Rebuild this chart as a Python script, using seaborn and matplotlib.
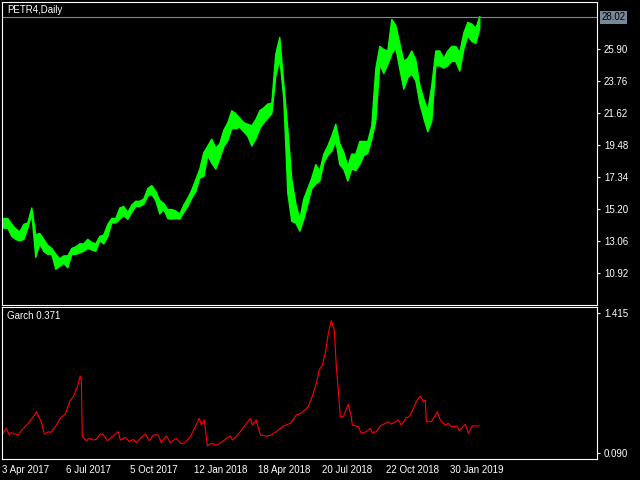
import numpy as np
import matplotlib
matplotlib.use('Agg')
import matplotlib.pyplot as plt
import matplotlib.transforms as mtransforms
import seaborn as sns

# ---- data (bar index = trading day from 3 Apr 2017) ----
# price: low / high over each block of 4 daily bars, block centres at bar 1, 5, 9 ...
price_low = [13.95, 13.95, 13.4, 13.2, 13.1, 13.2, 13.95, 14.9, 12.0, 12.9,
             12.4, 12.2, 12.2, 11.2, 11.4, 11.6, 11.3, 12.2, 12.2, 12.3,
             12.4, 12.6, 12.5, 12.4, 13.1, 12.9, 13.4, 14.3, 14.3, 14.55,
             14.8, 14.55, 15.0, 15.4, 15.4, 15.55, 16.1, 16.2, 15.8, 14.9,
             15.2, 14.6, 14.55, 14.6, 14.55, 15.0, 15.4, 15.95, 16.4, 17.3,
             17.4, 18.8, 18.3, 17.9, 18.6, 19.4, 19.8, 20.6, 20.6, 20.7,
             20.4, 20.1, 19.45, 19.9, 20.6, 21.0, 21.3, 21.6, 24.1, 25.3,
             22.6, 16.3, 14.4, 14.3, 13.75, 14.55, 15.55, 16.6, 16.9, 17.1,
             18.3, 18.8, 19.1, 19.8, 18.2, 17.9, 17.1, 17.9, 17.8, 18.2,
             18.8, 18.96, 19.9, 21.1, 24.9, 24.3, 24.9, 25.6, 26.0, 24.6,
             23.25, 24.0, 24.25, 23.8, 22.3, 21.3, 20.4, 21.1, 24.8, 24.8,
             24.65, 24.8, 25.1, 25.1, 24.45, 25.9, 26.8, 26.45, 26.3, 27.3]
price_high = [14.6, 14.6, 14.2, 13.9, 13.7, 14.2, 14.3, 15.3, 13.5, 13.6,
              13.2, 12.8, 12.6, 12.2, 11.9, 12.1, 12.1, 12.6, 12.7, 12.9,
              12.9, 13.2, 13.0, 12.9, 13.4, 13.5, 14.2, 14.6, 14.6, 15.3,
              15.4, 15.0, 15.5, 15.75, 15.75, 15.9, 16.6, 16.8, 16.4, 15.8,
              15.6, 15.2, 15.2, 15.1, 14.9, 15.5, 15.95, 16.5, 17.2, 17.9,
              19.0, 19.44, 19.9, 19.3, 19.6, 20.5, 21.0, 21.8, 21.6, 21.3,
              21.0, 20.9, 20.8, 21.2, 21.8, 22.0, 22.25, 22.3, 25.6, 26.7,
              23.6, 20.6, 17.2, 15.6, 14.55, 15.9, 16.6, 17.3, 18.2, 17.8,
              18.9, 19.44, 20.1, 20.9, 19.6, 19.0, 18.1, 18.9, 18.9, 19.75,
              19.75, 19.75, 20.8, 24.6, 26.1, 25.9, 25.8, 27.9, 27.5, 26.3,
              25.1, 25.3, 25.8, 25.2, 23.5, 22.6, 21.8, 23.5, 25.8, 25.8,
              25.3, 25.8, 26.1, 26.1, 25.7, 27.0, 27.7, 27.6, 27.3, 28.1]
price_bar = np.arange(1, 1 + 4 * len(price_low), 4)
last_price = 28.02

garch_bar = [0, 4, 7, 9, 16, 19, 26, 31, 34, 39, 42, 46, 48, 53, 58, 63, 68, 71, 75, 78,
             79, 80, 84, 87, 91, 94, 98, 101, 105, 109, 116, 118, 123, 127, 131, 134, 138,
             143, 147, 151, 156, 159, 164, 168, 174, 178, 182, 188, 193, 197, 199, 202,
             204, 205, 209, 214, 218, 224, 228, 230, 234, 238, 243, 248, 250, 254, 258,
             264, 269, 274, 281, 288, 294, 299, 306, 311, 314, 317, 320, 323, 326, 329,
             332, 334, 336, 338, 341, 346, 349, 350, 356, 359, 364, 368, 370, 374, 378,
             383, 386, 389, 393, 396, 399, 404, 407, 410, 414, 418, 421, 423, 424, 429,
             435, 438, 443, 446, 449, 455, 457, 463, 466, 470, 477]
garch_val = [0.274, 0.327, 0.264, 0.286, 0.264, 0.305, 0.374, 0.436, 0.483, 0.389,
             0.274, 0.295, 0.286, 0.342, 0.421, 0.462, 0.593, 0.624, 0.718, 0.819,
             0.782, 0.248, 0.210, 0.233, 0.217, 0.223, 0.274, 0.270, 0.210, 0.242,
             0.295, 0.217, 0.242, 0.201, 0.223, 0.192, 0.233, 0.274, 0.210, 0.264,
             0.264, 0.192, 0.255, 0.192, 0.233, 0.186, 0.186, 0.248, 0.342, 0.421,
             0.358, 0.405, 0.248, 0.160, 0.186, 0.170, 0.186, 0.233, 0.255, 0.217,
             0.252, 0.295, 0.358, 0.421, 0.358, 0.405, 0.264, 0.252, 0.264, 0.295,
             0.349, 0.374, 0.452, 0.468, 0.531, 0.656, 0.750, 0.876, 0.923, 1.033,
             1.221, 1.340, 1.252, 0.907, 0.688, 0.436, 0.436, 0.553, 0.436, 0.358,
             0.342, 0.280, 0.295, 0.327, 0.286, 0.295, 0.349, 0.374, 0.389, 0.367,
             0.389, 0.405, 0.358, 0.427, 0.436, 0.493, 0.578, 0.631, 0.578, 0.593,
             0.389, 0.389, 0.483, 0.405, 0.358, 0.374, 0.342, 0.349, 0.305, 0.364,
             0.280, 0.349, 0.349]

date_bars = [0, 64, 128, 192, 256, 320, 384, 448]
date_labels = ['3 Apr 2017', '6 Jul 2017', '5 Oct 2017', '12 Jan 2018',
               '18 Apr 2018', '20 Jul 2018', '22 Oct 2018', '30 Jan 2019']
price_ticks = [25.90, 23.76, 21.62, 19.48, 17.34, 15.20, 13.06, 10.92]
garch_ticks = [1.415, 0.090]

# ---- style ----
sns.set_style('dark')
plt.rcParams['font.family'] = ['Liberation Sans', 'DejaVu Sans']
plt.rcParams['font.size'] = 7
fg = 'white'

fig = plt.figure(figsize=(6.4, 4.8), dpi=100, facecolor='black')
ax1 = fig.add_axes([2 / 640, 1 - 305 / 480, 595 / 640, 303 / 480])
ax2 = fig.add_axes([2 / 640, 1 - 459 / 480, 595 / 640, 151.7 / 480])

for ax in (ax1, ax2):
    ax.set_facecolor('black')
    ax.grid(False)
    for s in ax.spines.values():
        s.set_color(fg)
        s.set_linewidth(0.8)
    ax.set_xlim(-0.3, 594.7)
    ax.yaxis.tick_right()
    ax.tick_params(axis='y', colors=fg, length=2.5, width=0.8, pad=2.5, labelsize=7)

# ---- price panel: daily high-low range drawn as a band ----
ax1.fill_between(price_bar, price_low, price_high, color='#00ff00', lw=1.0,
                 edgecolor='#00ff00')
ax1.axhline(last_price, color='#778899', lw=0.8)
ax1.set_ylim(8.78, 29.04)
ax1.set_yticks(price_ticks)
ax1.set_yticklabels([f'{t:.2f}' for t in price_ticks])
ax1.set_xticks([])
ax1.text(0.008, 0.975, 'PETR4,Daily', transform=ax1.transAxes, color=fg,
         fontsize=7, va='center', ha='left')
trans = mtransforms.blended_transform_factory(ax1.transAxes, ax1.transData)
ax1.text(1.007, last_price, f'{last_price:.2f}', transform=trans, color='black',
         fontsize=7, va='center', ha='left',
         bbox=dict(facecolor='#778899', edgecolor='none', pad=1.2))

# ---- garch panel ----
sns.lineplot(x=garch_bar, y=garch_val, ax=ax2, color='#ff0000', lw=0.8)
ax2.set_ylim(0.038, 1.466)
ax2.set_yticks(garch_ticks)
ax2.set_yticklabels([f'{t:.3f}' for t in garch_ticks])
ax2.set_xticks(date_bars)
ax2.set_xticklabels(date_labels)
ax2.tick_params(axis='x', colors=fg, length=2.5, width=0.8, pad=1.5, labelsize=7)
for lab in ax2.get_xticklabels():
    lab.set_ha('left')
ax2.set_xlabel('')
ax2.set_ylabel('')
ax2.text(0.008, 0.94, f'Garch {0.371:.3f}', transform=ax2.transAxes, color=fg,
         fontsize=7, va='center', ha='left')

fig.savefig('out.png', dpi=100, facecolor='black')
